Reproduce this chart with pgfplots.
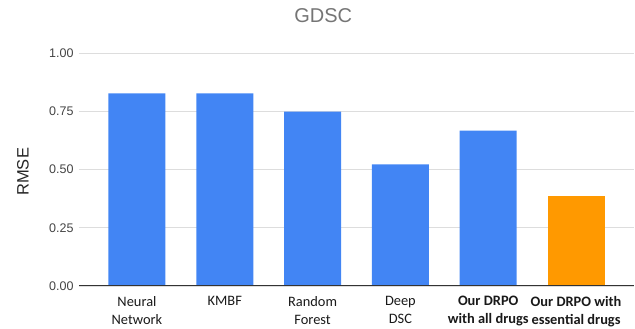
\documentclass[border=0pt]{standalone}
\usepackage{pgfplots}
\pgfplotsset{compat=1.18}
\usepackage{fontspec}
\setmainfont{Liberation Sans}
\newfontfamily\calibri{Carlito}
\definecolor{barblue}{HTML}{4285F4}
\definecolor{barorange}{HTML}{FF9900}
\definecolor{titlegray}{HTML}{757575}
\definecolor{tickgray}{HTML}{444444}
\definecolor{gridgray}{HTML}{DDDDDD}
\definecolor{axisgray}{HTML}{333333}
\begin{document}
\begin{tikzpicture}
\useasboundingbox (0,0) rectangle (635pt,329pt);
\begin{axis}[
  at={(79pt,43pt)}, anchor=south west,
  scale only axis, width=555pt, height=233pt,
  xmin=-0.66, xmax=5.66, ymin=0, ymax=1,
  axis line style={draw=none},
  major tick length=0pt,
  ytick={0,0.25,0.5,0.75,1},
  yticklabels={0.00,0.25,0.50,0.75,1.00},
  ymajorgrids, grid style={draw=gridgray, line width=0.9pt},
  yticklabel style={font=\fontsize{12.5}{15}\selectfont, text=tickgray, xshift=-2pt},
  xtick={0,1,2,3,4,5},
  xticklabels={Neural\\Network, KMBF, Random\\Forest, Deep\\DSC, \textbf{Our DRPO}\\\textbf{with all drugs}, \textbf{Our DRPO with}\\\textbf{essential drugs}},
  xticklabel style={align=center, font=\calibri\fontsize{14.4}{18}\selectfont, text=black!90, yshift=-7pt},
  title={GDSC},
  title style={font=\fontsize{20}{24}\selectfont, text=titlegray, at={(axis description cs:0.44,1)}, anchor=center, yshift=31pt},
  ylabel={RMSE},
  ylabel style={font=\fontsize{16.5}{20}\selectfont, text=black!85, at={(axis description cs:-0.1009,0.49)}, anchor=center},
  ybar, bar width=57pt, bar shift=0pt,
]
\addplot[draw=none, fill=barblue] coordinates {(0,0.827) (1,0.827) (2,0.748) (3,0.522) (4,0.667)};
\addplot[draw=none, fill=barorange] coordinates {(5,0.388)};
\draw[axisgray, line width=1.3pt] (axis cs:-0.66,0) -- (axis cs:5.66,0);
\end{axis}
\end{tikzpicture}
\end{document}
